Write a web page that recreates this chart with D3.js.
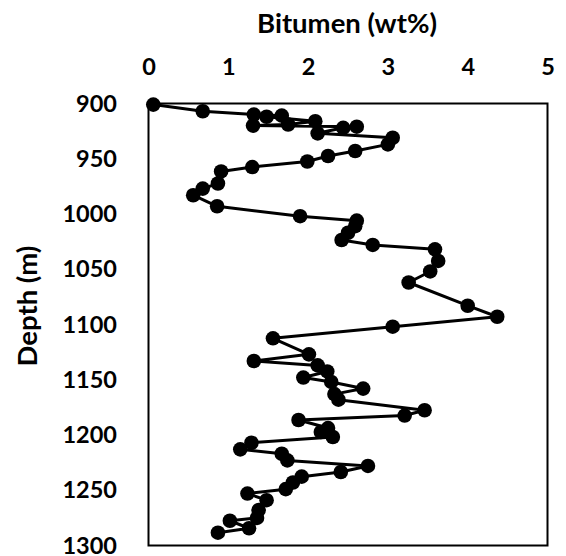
<!DOCTYPE html>
<html>
<head>
<meta charset="utf-8">
<script src="https://cdnjs.cloudflare.com/ajax/libs/d3/7.8.5/d3.min.js"></script>
<style>
  html, body { margin: 0; padding: 0; background: #fff; }
  svg text { font-family: Lato, "Open Sans", sans-serif; font-weight: bold; fill: #000; }
</style>
</head>
<body>
<svg id="chart" width="566" height="556"></svg>
<script>
// Data
const depth = [901, 907, 910, 911, 912, 916, 919, 920, 921, 922, 927, 931, 937, 943, 947.5, 952.5, 957.5, 961.5, 972.4, 977, 983, 993,
  1002, 1006, 1011, 1017, 1023.5, 1028, 1032, 1042.5, 1052, 1062, 1083, 1093, 1102, 1112.5, 1127, 1133, 1137, 1142.5, 1148, 1152,
  1158, 1163, 1168, 1177.6, 1182.4, 1186.4, 1193.7, 1197.3, 1201.8, 1207, 1213, 1217, 1223, 1228, 1233.5, 1237.7, 1243, 1249,
  1253, 1259, 1268, 1275, 1277.6, 1284.4, 1288.4];
const bitumen = [0.06, 0.68, 1.32, 1.67, 1.48, 2.09, 1.75, 1.31, 2.61, 2.44, 2.12, 3.06, 3.00, 2.59, 2.25, 1.99, 1.30, 0.91, 0.87, 0.68, 0.56, 0.86,
  1.90, 2.61, 2.59, 2.50, 2.42, 2.81, 3.59, 3.63, 3.53, 3.26, 4.00, 4.37, 3.06, 1.56, 2.01, 1.32, 2.12, 2.24, 1.94, 2.29,
  2.69, 2.33, 2.38, 3.46, 3.21, 1.88, 2.25, 2.16, 2.31, 1.29, 1.15, 1.67, 1.74, 2.75, 2.41, 1.92, 1.81, 1.72,
  1.24, 1.48, 1.38, 1.36, 1.02, 1.26, 0.87];
const xTicks = [0, 1, 2, 3, 4, 5];
const yTicks = [900, 950, 1000, 1050, 1100, 1150, 1200, 1250, 1300];
const xTitle = "Bitumen (wt%)";
const yTitle = "Depth (m)";

const points = depth.map((d, i) => ({ depth: d, value: bitumen[i] }));

const svg = d3.select("#chart");
const mLeft = 148.5, mRight = 547.5, mTop = 103.5, mBottom = 545.5;

const x = d3.scaleLinear().domain([0, 5]).range([mLeft, mRight]);
const y = d3.scaleLinear().domain([900, 1300]).range([mTop, mBottom]);

// X axis (top)
const xAxis = d3.axisTop(x).tickValues(xTicks).tickFormat(d3.format("d")).tickSize(0).tickPadding(0);
const gx = svg.append("g").attr("transform", `translate(0,${mTop - 37})`).call(xAxis);
gx.select(".domain").remove();
gx.selectAll("text").style("font-size", "23.5px").attr("dy", "0.35em").attr("y", 0);

// Y axis (left)
const yAxis = d3.axisLeft(y).tickValues(yTicks).tickFormat(d3.format("d")).tickSize(0).tickPadding(0);
const gy = svg.append("g").attr("transform", `translate(${mLeft - 31.5},0)`).call(yAxis);
gy.select(".domain").remove();
gy.selectAll("text").style("font-size", "23.5px");

// Plot frame
svg.append("rect")
  .attr("x", mLeft).attr("y", mTop)
  .attr("width", mRight - mLeft).attr("height", mBottom - mTop)
  .attr("fill", "none").attr("stroke", "#000").attr("stroke-width", 2);

// Titles
svg.append("text").attr("x", 347).attr("y", 23).attr("dy", "0.35em").attr("text-anchor", "middle")
  .style("font-size", "27.5px").text(xTitle);
svg.append("text").attr("transform", "translate(27.5,306) rotate(-90)").attr("dy", "0.35em").attr("text-anchor", "middle")
  .style("font-size", "27.5px").text(yTitle);

// Line
const line = d3.line().x(d => x(d.value)).y(d => y(d.depth));
svg.append("path").datum(points).attr("d", line)
  .attr("fill", "none").attr("stroke", "#000").attr("stroke-width", 3).attr("stroke-linejoin", "round");

// Markers
svg.append("g").selectAll("circle").data(points).join("circle")
  .attr("cx", d => x(d.value)).attr("cy", d => y(d.depth)).attr("r", 7.3).attr("fill", "#000");
</script>
</body>
</html>
